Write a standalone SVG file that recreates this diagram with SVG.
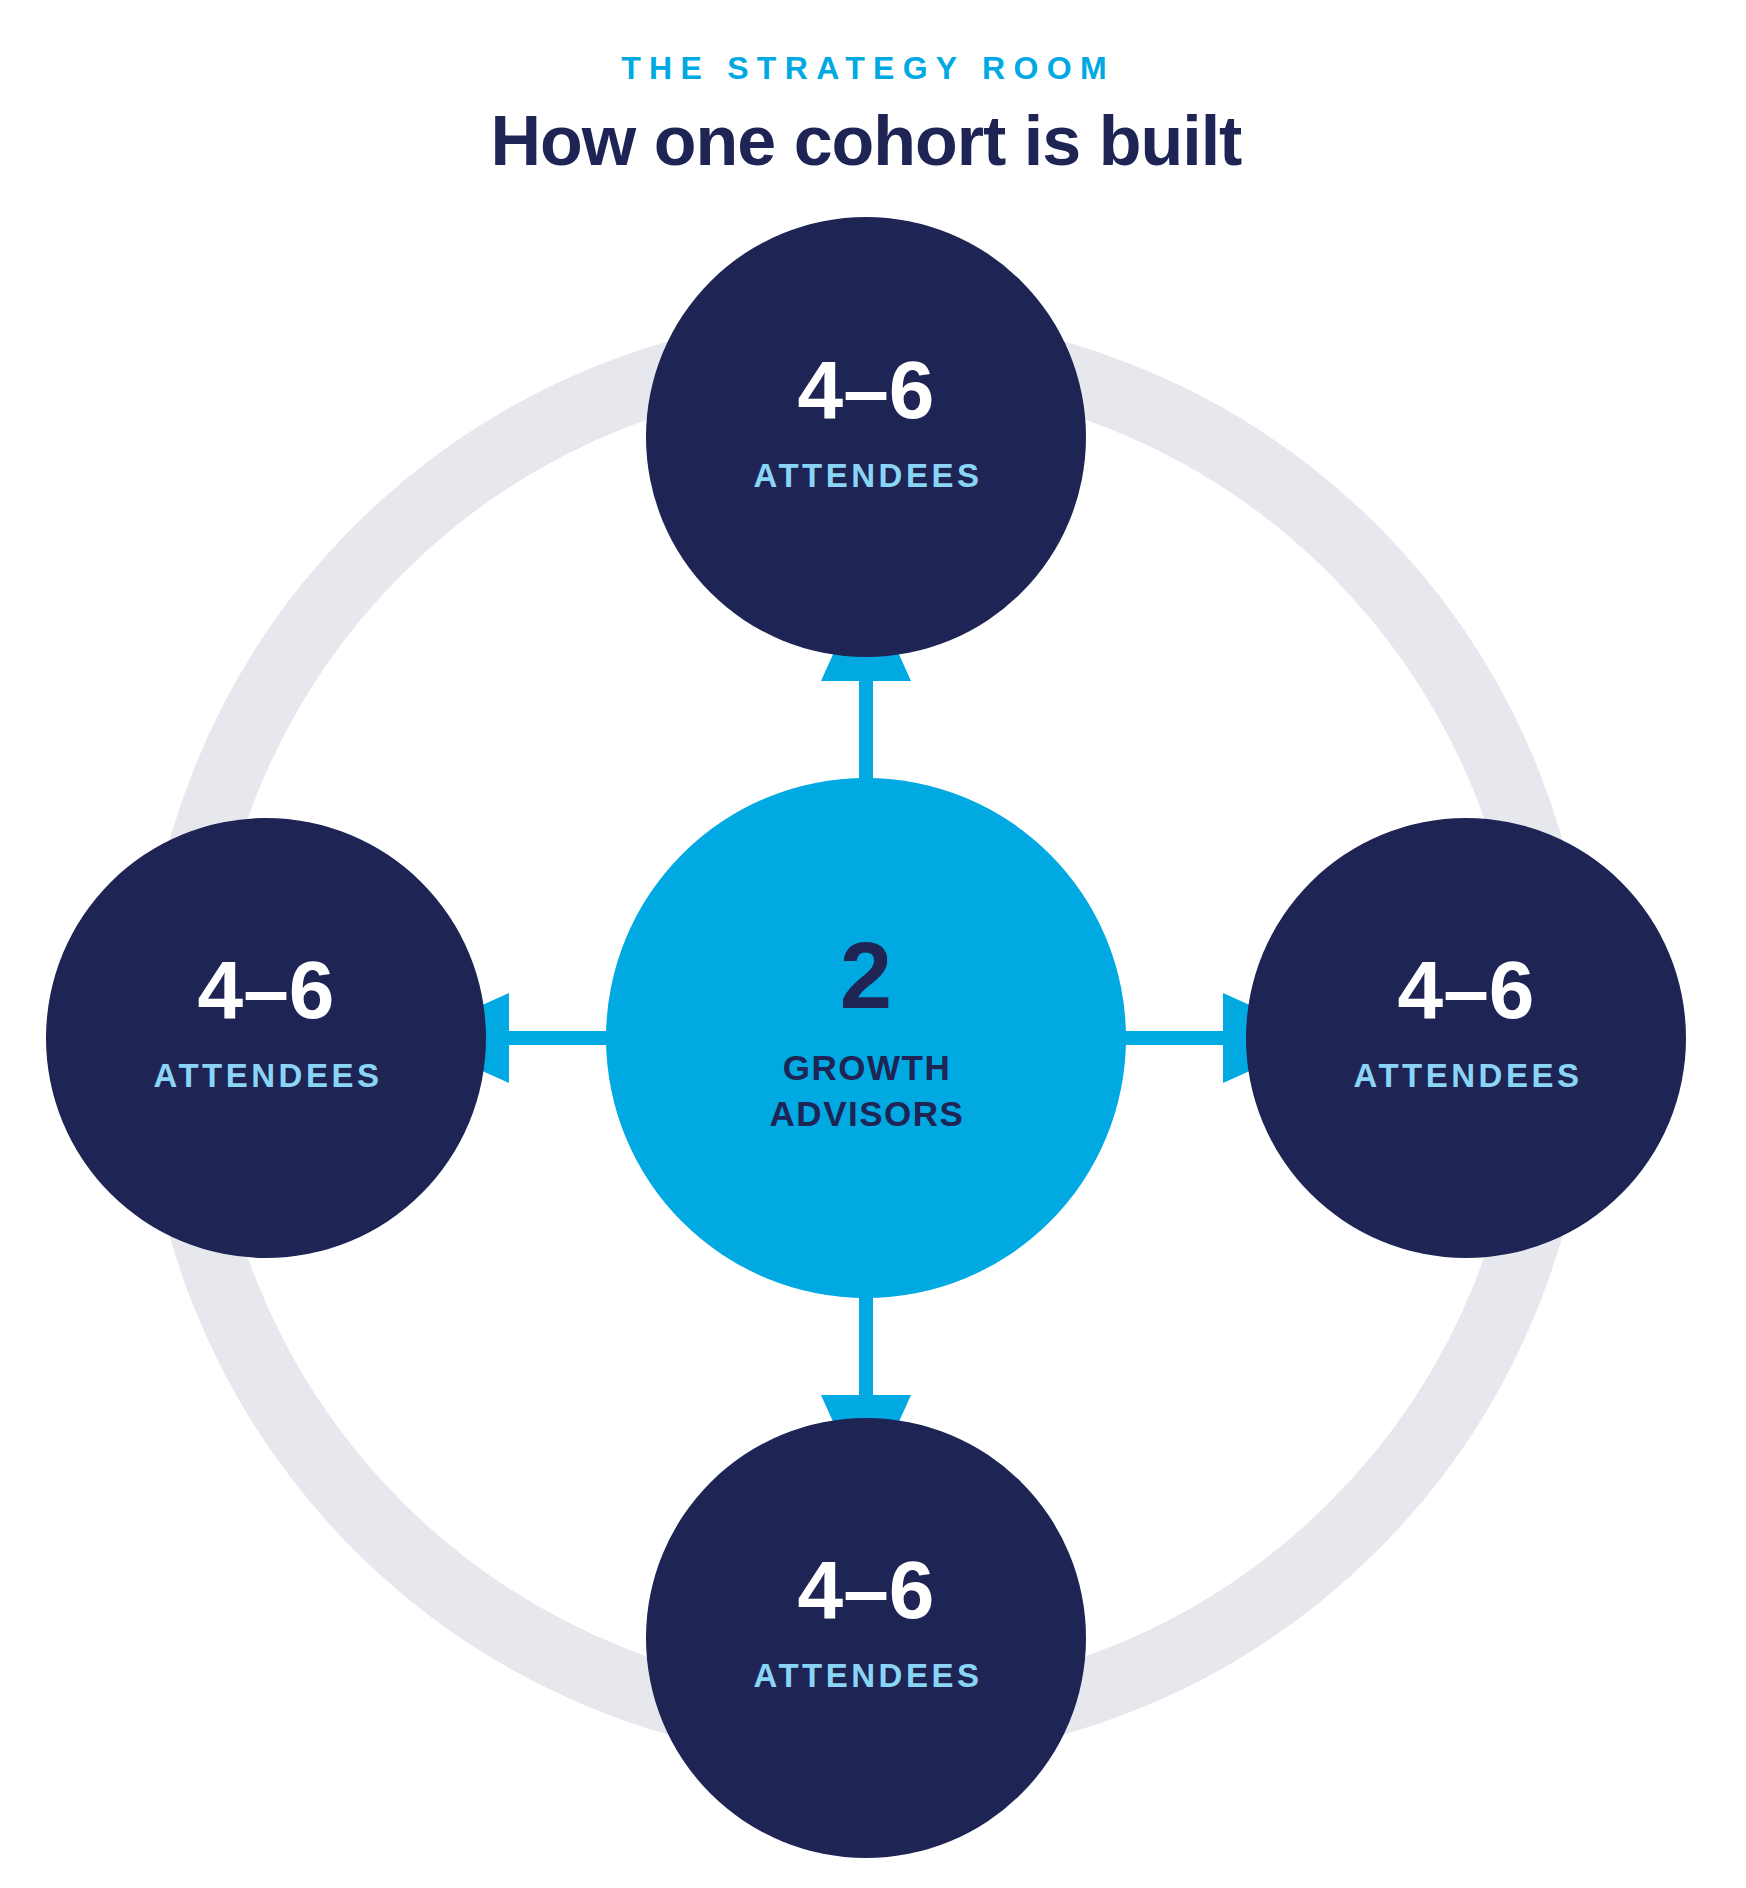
<svg xmlns="http://www.w3.org/2000/svg" width="1746" height="1888" viewBox="0 0 1746 1888">
  <style>
    .bg { fill: #ffffff; }
    .ring { fill: none; stroke: #E7E8EE; stroke-width: 68; }
    .conn { stroke: #00A9E2; stroke-width: 14; fill: none; }
    .outer { fill: #1E2454; }
    .hub { fill: #00A9E2; }
    .kicker { font-family: "Liberation Sans", Arial, sans-serif; font-weight: 700; font-size: 32px; letter-spacing: 8.3px; fill: #00A9E2; text-anchor: middle; }
    .title { font-family: "Liberation Sans", Arial, sans-serif; font-weight: 700; font-size: 70px; letter-spacing: -1px; fill: #1E2454; text-anchor: middle; }
    .num { font-family: "Liberation Sans", Arial, sans-serif; font-weight: 700; font-size: 82px; fill: #ffffff; text-anchor: middle; }
    .lab { font-family: "Liberation Sans", Arial, sans-serif; font-weight: 700; font-size: 33px; letter-spacing: 3.5px; fill: #8AD4F5; text-anchor: middle; }
    .hubnum { font-family: "Liberation Sans", Arial, sans-serif; font-weight: 700; font-size: 94px; fill: #1E2454; text-anchor: middle; }
    .hublab { font-family: "Liberation Sans", Arial, sans-serif; font-weight: 700; font-size: 35px; letter-spacing: 1.5px; fill: #1E2454; text-anchor: middle; }
  </style>
  <defs>
    <marker id="arrow" markerUnits="userSpaceOnUse" markerWidth="100" markerHeight="90" viewBox="0 0 100 90" refX="100" refY="45" orient="auto">
      <path d="M0,0 L100,45 L0,90 Z" fill="#00A9E2"/>
    </marker>
  </defs>
  <rect class="bg" x="0" y="0" width="1746" height="1888"/>

  <g id="header">
    <text class="kicker" x="868" y="79">THE STRATEGY ROOM</text>
    <text class="title" x="866" y="165">How one cohort is built</text>
  </g>

  <g id="ring">
    <circle class="ring" cx="866" cy="1038" r="690"/>
  </g>

  <g id="connectors">
    <line class="conn" x1="866" y1="780" x2="866" y2="581" marker-end="url(#arrow)"/>
    <line class="conn" x1="866" y1="1296" x2="866" y2="1495" marker-end="url(#arrow)"/>
    <line class="conn" x1="608" y1="1038" x2="409" y2="1038" marker-end="url(#arrow)"/>
    <line class="conn" x1="1124" y1="1038" x2="1323" y2="1038" marker-end="url(#arrow)"/>
  </g>

  <g id="hub">
    <circle class="hub" cx="866" cy="1038" r="260"/>
    <text class="hubnum" x="866" y="1008">2</text>
    <text class="hublab" x="867" y="1080">GROWTH</text>
    <text class="hublab" x="867" y="1126">ADVISORS</text>
  </g>

  <g id="node-top">
    <circle class="outer" cx="866" cy="437" r="220"/>
    <text class="num" x="866" y="418">4–6</text>
    <text class="lab" x="868" y="487">ATTENDEES</text>
  </g>

  <g id="node-left">
    <circle class="outer" cx="266" cy="1038" r="220"/>
    <text class="num" x="266" y="1018">4–6</text>
    <text class="lab" x="268" y="1087">ATTENDEES</text>
  </g>

  <g id="node-right">
    <circle class="outer" cx="1466" cy="1038" r="220"/>
    <text class="num" x="1466" y="1018">4–6</text>
    <text class="lab" x="1468" y="1087">ATTENDEES</text>
  </g>

  <g id="node-bottom">
    <circle class="outer" cx="866" cy="1638" r="220"/>
    <text class="num" x="866" y="1618">4–6</text>
    <text class="lab" x="868" y="1687">ATTENDEES</text>
  </g>
</svg>
